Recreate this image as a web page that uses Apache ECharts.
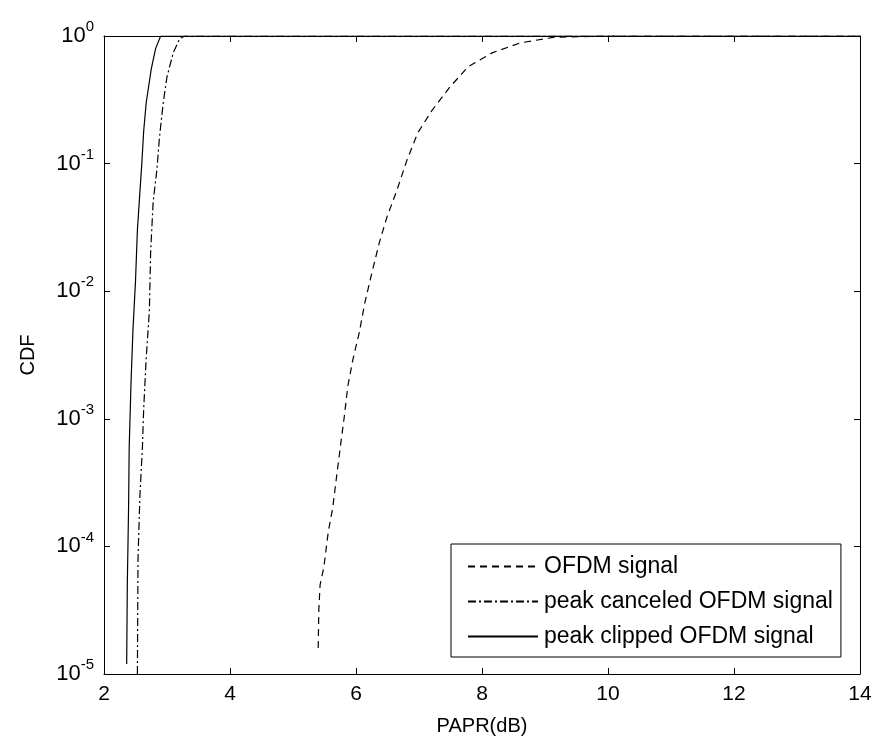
<!DOCTYPE html>
<html>
<head>
<meta charset="utf-8">
<script src="https://cdn.jsdelivr.net/npm/echarts@6/dist/echarts.min.js"></script>
<style>
html,body{margin:0;padding:0;background:#fff;}
#chart{width:881px;height:738px;}
</style>
</head>
<body>
<div id="chart"></div>
<script>
// ---- data ----
const seriesNames = ['OFDM signal', 'peak canceled OFDM signal', 'peak clipped OFDM signal'];

const ofdmX = [5.40, 5.41, 5.43, 5.49, 5.56, 5.63, 5.70, 5.76, 5.81, 5.87, 5.95, 6.05, 6.14, 6.25, 6.37, 6.49, 6.65, 6.81, 6.98, 7.21, 7.49, 7.78, 8.17, 8.60, 9.13, 10.0, 14];
const ofdmY = [1.6e-5, 3.2e-5, 5e-5, 6.9e-5, 1.3e-4, 2e-4, 3.8e-4, 6.5e-4, 1.0e-3, 1.8e-3, 2.9e-3, 4.7e-3, 8.1e-3, 0.0138, 0.024, 0.038, 0.062, 0.107, 0.174, 0.263, 0.398, 0.575, 0.741, 0.881, 0.977, 1, 1];

const canceledX = [2.53, 2.54, 2.57, 2.61, 2.63, 2.67, 2.72, 2.74, 2.78, 2.84, 2.88, 2.94, 3.00, 3.10, 3.20, 3.28, 14];
const canceledY = [1e-5, 8e-5, 2.5e-4, 6e-4, 1.2e-3, 3e-3, 7e-3, 0.02, 0.05, 0.09, 0.16, 0.3, 0.48, 0.74, 0.95, 1, 1];

const clippedX = [2.36, 2.37, 2.39, 2.40, 2.43, 2.46, 2.50, 2.53, 2.57, 2.60, 2.63, 2.67, 2.75, 2.82, 2.90, 14];
const clippedY = [1.2e-5, 5e-5, 2e-4, 6e-4, 2e-3, 5e-3, 0.012, 0.03, 0.06, 0.1, 0.18, 0.3, 0.55, 0.8, 1, 1];

const xTicks = [2, 4, 6, 8, 10, 12, 14];
const yTickExponents = [-5, -4, -3, -2, -1, 0];

const xLabel = 'PAPR(dB)';
const yLabel = 'CDF';

function pairs(xs, ys) { return xs.map((x, i) => [x, ys[i]]); }

const FONT = 'Liberation Sans, Arial, sans-serif';
const chart = echarts.init(document.getElementById('chart'), null, {renderer: 'canvas'});

const axisLine = {show: true, lineStyle: {color: '#000', width: 1}};
const tickIn = {show: true, inside: true, length: 6, lineStyle: {color: '#000'}};

const option = {
  backgroundColor: '#fff',
  animation: false,
  grid: {left: 104, right: 21, top: 36, bottom: 64, show: false, containLabel: false, outerBoundsMode: 'none'},
  legend: {
    data: seriesNames,
    orient: 'vertical',
    left: 451,
    top: 544,
    itemWidth: 70,
    itemHeight: 14,
    itemGap: 12,
    padding: [11, 8, 9, 16],
    borderColor: '#000',
    borderWidth: 1,
    backgroundColor: '#fff',
    itemStyle: {opacity: 0},
    textStyle: {fontFamily: FONT, fontSize: 23, color: '#000', padding: [0, 0, 0, 1]},
    selectedMode: false
  },
  xAxis: [{
    type: 'value',
    min: xTicks[0], max: xTicks[xTicks.length - 1], interval: 2,
    axisLine: axisLine, axisTick: tickIn, splitLine: {show: false},
    axisLabel: {color: '#000', fontFamily: FONT, fontSize: 21, margin: 10},
    name: xLabel, nameLocation: 'middle', nameGap: 42,
    nameTextStyle: {color: '#000', fontFamily: FONT, fontSize: 20}
  }, {
    type: 'value', position: 'top',
    min: xTicks[0], max: xTicks[xTicks.length - 1], interval: 2,
    axisLine: axisLine, axisTick: tickIn, splitLine: {show: false},
    axisLabel: {show: false}
  }],
  yAxis: [{
    type: 'log', logBase: 10,
    min: Math.pow(10, yTickExponents[0]), max: Math.pow(10, yTickExponents[yTickExponents.length - 1]),
    splitNumber: 5,
    axisLine: axisLine, axisTick: tickIn, splitLine: {show: false},
    axisLabel: {
      margin: 10,
      formatter: v => '{b|10}{s|' + Math.round(Math.log10(v)) + '}',
      rich: {
        b: {fontFamily: FONT, fontSize: 22, color: '#000'},
        s: {fontFamily: FONT, fontSize: 15, color: '#000', padding: [0, 0, 18, 0]}
      }
    },
    name: yLabel, nameLocation: 'middle', nameGap: 66, nameRotate: 90,
    nameTextStyle: {color: '#000', fontFamily: FONT, fontSize: 20}
  }, {
    type: 'log', logBase: 10, position: 'right',
    min: Math.pow(10, yTickExponents[0]), max: Math.pow(10, yTickExponents[yTickExponents.length - 1]),
    splitNumber: 5,
    axisLine: axisLine, axisTick: tickIn, splitLine: {show: false},
    axisLabel: {show: false}
  }],
  series: [{
    name: seriesNames[0], type: 'line', symbol: 'none', smooth: false,
    data: pairs(ofdmX, ofdmY),
    lineStyle: {color: '#000', width: 1.2, type: [7, 5]},
    itemStyle: {color: '#000'}
  }, {
    name: seriesNames[1], type: 'line', symbol: 'none',
    data: pairs(canceledX, canceledY),
    lineStyle: {color: '#000', width: 1.2, type: [8, 3, 2, 3]},
    itemStyle: {color: '#000'}
  }, {
    name: seriesNames[2], type: 'line', symbol: 'none',
    data: pairs(clippedX, clippedY),
    lineStyle: {color: '#000', width: 1.2, type: 'solid'},
    itemStyle: {color: '#000'}
  }]
};
chart.setOption(option);
</script>
</body>
</html>
